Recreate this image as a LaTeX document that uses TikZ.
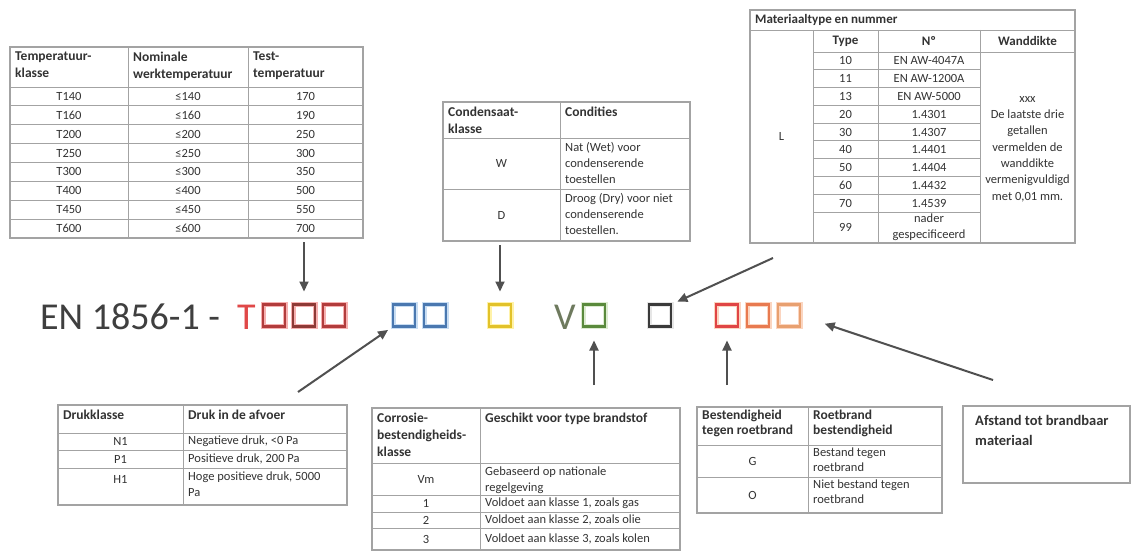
\documentclass[tikz,border=0pt]{standalone}
\usepackage{fontspec}
\setmainfont{Carlito}
\usetikzlibrary{arrows.meta}
\definecolor{tline}{HTML}{A3A3A3}
\definecolor{ttext}{HTML}{333333}
\definecolor{arrc}{HTML}{505050}
\definecolor{maintext}{HTML}{3F3F3F}
\definecolor{redT}{HTML}{E04848}
\definecolor{redA}{HTML}{B23C3C}
\definecolor{redB}{HTML}{8E3A36}
\definecolor{glowR}{HTML}{F6B0B0}
\definecolor{blueA}{HTML}{4A78B0}
\definecolor{glowB}{HTML}{C8DDF2}
\definecolor{yelA}{HTML}{E2C22A}
\definecolor{glowY}{HTML}{FFF2A8}
\definecolor{greV}{HTML}{6E7A5E}
\definecolor{greA}{HTML}{5A8A3C}
\definecolor{glowG}{HTML}{DCEBD0}
\definecolor{blkA}{HTML}{3A3A3A}
\definecolor{glowK}{HTML}{E6E6E6}
\definecolor{orA}{HTML}{E04545}
\definecolor{orB}{HTML}{E87A50}
\definecolor{orC}{HTML}{E8A070}
\definecolor{glowO}{HTML}{FBD5C0}
\begin{document}
\begin{tikzpicture}[x=1pt,y=-1pt,
  frame/.style={draw=tline, line width=1.2pt, anchor=north west, inner sep=0pt, outer sep=0pt},
  grid/.style={draw=tline, line width=0.9pt},
  hd/.style={anchor=north west, inner sep=0pt, align=left, font=\fontsize{13.5}{17}\selectfont\bfseries, text=ttext},
  bd/.style={inner sep=0pt, align=center, font=\fontsize{12.5}{16}\selectfont, text=ttext},
  bl/.style={anchor=north west, inner sep=0pt, align=left, font=\fontsize{12.5}{16}\selectfont, text=ttext},
  bw/.style={anchor=west, inner sep=0pt, font=\fontsize{12.5}{16}\selectfont, text=ttext},
  big/.style={anchor=base west, inner sep=0pt, font=\fontsize{38}{40}\selectfont},
  arr/.style={draw=arrc, line width=2pt, -{Triangle[length=10pt,width=9pt]}},
  sq/.style 2 args={draw=#1, line width=2.2pt, minimum size=22pt, inner sep=0pt, outer sep=0pt, preaction={draw=#2, line width=5pt}},
]
\useasboundingbox (0,0) rectangle (1131,553);
\fill[white] (0,0) rectangle (1131,553);

% ---------- Temperatuurklasse table ----------
\node[frame, minimum width=353pt, minimum height=191pt] (tabT) at (10,47) {};
\draw[grid] (128,47) -- (128,238) (248,47) -- (248,238);
\foreach \k in {0,...,7} \draw[grid] (10,{87+18.875*\k}) -- (363,{87+18.875*\k});
\node[hd] (tTh1) at (15,52) {Temperatuur-\\klasse};
\node[hd] (tTh2) at (133,52) {Nominale\\werktemperatuur};
\node[hd] (tTh3) at (253,52) {Test-\\temperatuur};
\foreach \a/\b/\c [count=\k from 0] in {T140/≤140/170, T160/≤160/190, T200/≤200/250, T250/≤250/300, T300/≤300/350, T400/≤400/500, T450/≤450/550, T600/≤600/700} {
  \node[bd] (tTa\k) at (69,{96.44+18.875*\k}) {\a};
  \node[bd] (tTb\k) at (188,{96.44+18.875*\k}) {\b};
  \node[bd] (tTc\k) at (305.5,{96.44+18.875*\k}) {\c};
}

% ---------- Condensaatklasse table ----------
\node[frame, minimum width=247pt, minimum height=139pt] (tabC) at (443,102) {};
\draw[grid] (560,102) -- (560,241);
\draw[grid] (443,138) -- (690,138) (443,189) -- (690,189);
\node[hd] (tCh1) at (448,107) {Condensaat-\\klasse};
\node[hd] (tCh2) at (565,107) {Condities};
\node[bd] (tCw) at (501.5,163.5) {W};
\node[bd] (tCd) at (501.5,215) {D};
\node[bl] (tCwt) at (565,142) {Nat (Wet) voor\\condenserende\\toestellen};
\node[bl] (tCdt) at (565,193) {Droog (Dry) voor niet\\condenserende\\toestellen.};

% ---------- Materiaaltype table ----------
\node[frame, minimum width=325pt, minimum height=233pt] (tabM) at (750,10) {};
\draw[grid] (750,30) -- (1075,30);
\draw[grid] (813,30) -- (813,243) (878,30) -- (878,243) (980,30) -- (980,243);
\draw[grid] (813,52) -- (1075,52);
\foreach \k in {1,...,9} \draw[grid] (813,{52+17.78*\k}) -- (980,{52+17.78*\k});
\node[hd, font=\fontsize{13}{16}\selectfont\bfseries] (tMt) at (755,14) {Materiaaltype en nummer};
\node[bd, font=\fontsize{13}{16}\selectfont\bfseries] (tMh1) at (845.5,41) {Type};
\node[bd, font=\fontsize{13}{16}\selectfont\bfseries] (tMh2) at (929,41) {Nº};
\node[bd, font=\fontsize{13}{16}\selectfont\bfseries] (tMh3) at (1027.5,41) {Wanddikte};
\node[bd] (tML) at (781.5,136) {L};
\foreach \a/\b [count=\k from 0] in {10/EN AW-4047A, 11/EN AW-1200A, 13/EN AW-5000, 20/1.4301, 30/1.4307, 40/1.4401, 50/1.4404, 60/1.4432, 70/1.4539} {
  \node[bd] (tMa\k) at (845.5,{60.89+17.78*\k}) {\a};
  \node[bd] (tMb\k) at (929,{60.89+17.78*\k}) {\b};
}
\node[bd] (tMa9) at (845.5,227.5) {99};
\node[bd] (tMb9) at (929,227.5) {nader\\gespecificeerd};
\node[bd, font=\fontsize{12.5}{16.3}\selectfont] (tMw) at (1027.5,149) {xxx\\De laatste drie\\getallen\\vermelden de\\wanddikte\\vermenigvuldigd\\met 0,01 mm.};

% ---------- Drukklasse table ----------
\node[frame, minimum width=289pt, minimum height=100pt] (tabD) at (58,405) {};
\draw[grid] (183,405) -- (183,505);
\draw[grid] (58,433) -- (347,433) (58,450) -- (347,450) (58,468) -- (347,468);
\node[hd] (tDh1) at (63,410) {Drukklasse};
\node[hd] (tDh2) at (188,410) {Druk in de afvoer};
\node[bd] (tDn) at (120.5,441.5) {N1};
\node[bd] (tDp) at (120.5,459) {P1};
\node[bd] (tDh) at (120.5,479) {H1};
\node[bw] (tDnt) at (188,441.5) {Negatieve druk, <0 Pa};
\node[bw] (tDpt) at (188,459) {Positieve druk, 200 Pa};
\node[bl] (tDht) at (188,472) {Hoge positieve druk, 5000\\Pa};

% ---------- Corrosie table ----------
\node[frame, minimum width=308pt, minimum height=142pt] (tabK) at (372,408) {};
\draw[grid] (480,408) -- (480,550);
\draw[grid] (372,463) -- (680,463) (372,495) -- (680,495) (372,512) -- (680,512) (372,528) -- (680,528);
\node[hd] (tKh1) at (377,413) {Corrosie-\\bestendigheids-\\klasse};
\node[hd] (tKh2) at (485,413) {Geschikt voor type brandstof};
\node[bd] (tKv) at (426,479) {Vm};
\node[bl] (tKvt) at (485,467) {Gebaseerd op nationale\\regelgeving};
\node[bd] (tK1) at (426,503.5) {1};
\node[bd] (tK2) at (426,520) {2};
\node[bd] (tK3) at (426,539) {3};
\node[bw] (tK1t) at (485,503.5) {Voldoet aan klasse 1, zoals gas};
\node[bw] (tK2t) at (485,520) {Voldoet aan klasse 2, zoals olie};
\node[bw] (tK3t) at (485,539) {Voldoet aan klasse 3, zoals kolen};

% ---------- Roetbrand table ----------
\node[frame, minimum width=245pt, minimum height=106pt] (tabB) at (697,407) {};
\draw[grid] (808,407) -- (808,513);
\draw[grid] (697,445) -- (942,445) (697,477) -- (942,477);
\node[hd, font=\fontsize{13.5}{14.5}\selectfont\bfseries] (tBh1) at (702,410) {Bestendigheid\\tegen roetbrand};
\node[hd, font=\fontsize{13.5}{14.5}\selectfont\bfseries] (tBh2) at (813,410) {Roetbrand\\bestendigheid};
\node[bd] (tBg) at (752.5,461) {G};
\node[bd] (tBo) at (752.5,495) {O};
\node[bl, font=\fontsize{12.5}{14.5}\selectfont] (tBgt) at (813,448) {Bestand tegen\\roetbrand};
\node[bl, font=\fontsize{12.5}{14.5}\selectfont] (tBot) at (813,480) {Niet bestand tegen\\roetbrand};

% ---------- Afstand box ----------
\node[frame, minimum width=167pt, minimum height=77pt] (tabA) at (963,406) {};
\node[hd, font=\fontsize{14.5}{20}\selectfont\bfseries] (tAt) at (975,415) {Afstand tot brandbaar\\materiaal};

% ---------- designation line ----------
\node[big, text=maintext] (title) at (40,329) {EN 1856-1 -};
\node[big, text=redT] (tLT) at (237,329) {T};
\node[sq={redA}{glowR}] (bT1) at (274,315.5) {};
\node[sq={redB}{glowR}] (bT2) at (304,315.5) {};
\node[sq={redA}{glowR}] (bT3) at (334,315.5) {};
\node[sq={blueA}{glowB}] (bB1) at (404,315.5) {};
\node[sq={blueA}{glowB}] (bB2) at (435,315.5) {};
\node[sq={yelA}{glowY}] (bY) at (500,315.5) {};
\node[big, text=greV] (tLV) at (554,329) {V};
\node[sq={greA}{glowG}] (bG) at (594,315.5) {};
\node[sq={blkA}{glowK}] (bK) at (660,315.5) {};
\node[sq={orA}{glowO}] (bR1) at (727,315.5) {};
\node[sq={orB}{glowO}] (bR2) at (758,315.5) {};
\node[sq={orC}{glowO}] (bR3) at (789,315.5) {};

% ---------- arrows ----------
\coordinate (a3) at (773,258);
\coordinate (a4) at (298,392);
\coordinate (a7) at (993,380);
\draw[arr, shorten <=4pt, shorten >=13pt] (tabT.south -| bT2.north) -- (bT2.north);
\draw[arr, shorten <=4pt, shorten >=13pt] (tabC.south -| bY.north) -- (bY.north);
\draw[arr, shorten >=7pt] (a3) -- (bK.north east);
\draw[arr, shorten >=6pt] (a4) -- (bB1.south west);
\draw[arr, shorten <=23pt, shorten >=14pt] (tabK.north -| bG.south) -- (bG.south);
\draw[arr, shorten <=22pt, shorten >=14pt] (tabB.north -| bR1.south) -- (bR1.south);
\draw[arr, shorten >=26pt] (a7) -- (bR3.east);
\end{tikzpicture}
\end{document}
